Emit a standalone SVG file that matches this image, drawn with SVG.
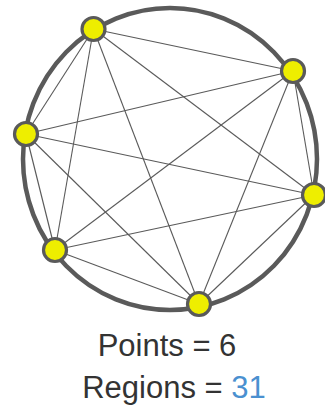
<svg xmlns="http://www.w3.org/2000/svg" width="325" height="406" viewBox="0 0 325 406">
<style>
.ring{fill:none;stroke:#5a5a5a;stroke-width:4.5}
.edge{stroke:#5a5a5a;stroke-width:1.1;fill:none}
.pt{fill:#eeee00;stroke:#5a5a5a;stroke-width:3.2}
.lbl{font-family:"Liberation Sans",Arial,sans-serif;font-size:31px;fill:#333;text-anchor:middle}
.num{fill:#4a90d0}
</style>
<rect width="325" height="406" fill="#fff"/>
<ellipse class="ring" cx="170" cy="159" rx="147" ry="151"/>
<g id="connectors">
<line class="edge" x1="93.5" y1="29" x2="293" y2="71"/>
<line class="edge" x1="93.5" y1="29" x2="26" y2="134"/>
<line class="edge" x1="93.5" y1="29" x2="314" y2="195"/>
<line class="edge" x1="93.5" y1="29" x2="55" y2="250"/>
<line class="edge" x1="93.5" y1="29" x2="199" y2="304"/>
<line class="edge" x1="293" y1="71" x2="26" y2="134"/>
<line class="edge" x1="293" y1="71" x2="314" y2="195"/>
<line class="edge" x1="293" y1="71" x2="55" y2="250"/>
<line class="edge" x1="293" y1="71" x2="199" y2="304"/>
<line class="edge" x1="26" y1="134" x2="314" y2="195"/>
<line class="edge" x1="26" y1="134" x2="55" y2="250"/>
<line class="edge" x1="26" y1="134" x2="199" y2="304"/>
<line class="edge" x1="314" y1="195" x2="55" y2="250"/>
<line class="edge" x1="314" y1="195" x2="199" y2="304"/>
<line class="edge" x1="55" y1="250" x2="199" y2="304"/>
</g>
<g id="p1"><circle class="pt" cx="93.5" cy="29" r="11.5"/></g>
<g id="p2"><circle class="pt" cx="293" cy="71" r="11.5"/></g>
<g id="p3"><circle class="pt" cx="26" cy="134" r="11.5"/></g>
<g id="p4"><circle class="pt" cx="314" cy="195" r="11.5"/></g>
<g id="p5"><circle class="pt" cx="55" cy="250" r="11.5"/></g>
<g id="p6"><circle class="pt" cx="199" cy="304" r="11.5"/></g>
<g id="labels">
<text class="lbl" x="167" y="356">Points = 6</text>
<text class="lbl" x="174" y="398">Regions = <tspan class="num">31</tspan></text>
</g>
</svg>
